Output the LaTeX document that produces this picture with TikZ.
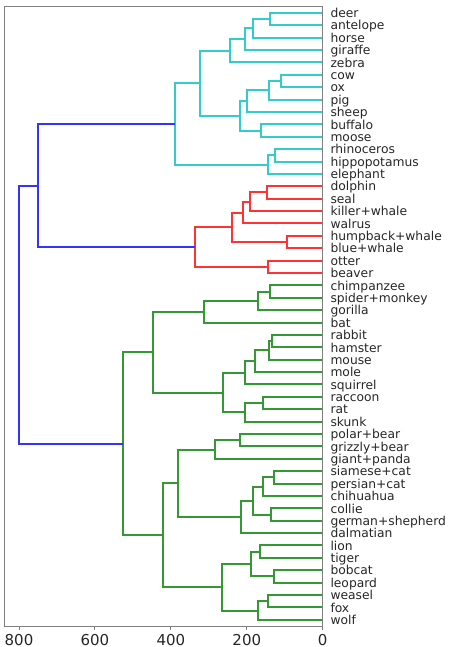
\documentclass[tikz,border=0pt]{standalone}
\usepackage{fontspec}
\setmainfont{DejaVu Sans}
\definecolor{lcyan}{HTML}{33CCCC}
\definecolor{lred}{HTML}{FF3333}
\definecolor{lgreen}{HTML}{339933}
\definecolor{lblue}{HTML}{3333FF}
\definecolor{spinecol}{HTML}{808080}
\begin{document}
\begin{tikzpicture}[x=1pt,y=-1pt,
  link/.style={line width=2pt,line join=miter},
  cy/.style={link,draw=lcyan},
  rd/.style={link,draw=lred},
  gr/.style={link,draw=lgreen},
  bl/.style={link,draw=lblue},
  leaf/.style={anchor=base west,inner sep=0pt,font=\fontsize{12.3}{14}\selectfont,text=black!85},
  tickmark/.style={draw=spinecol,line width=1pt},
  ticklabel/.style={anchor=base,inner sep=0pt,font=\fontsize{15}{18}\selectfont,text=black!85},
  axframe/.style={draw=spinecol,line width=1pt}]
\useasboundingbox (0,0) rectangle (448,647);
\begin{scope}[shift={(322.7,12.893)},x=-0.379625pt,y=-12.386pt]
\foreach \n [count=\i from 0] in {deer,antelope,horse,giraffe,zebra,cow,ox,pig,sheep,buffalo,moose,rhinoceros,hippopotamus,elephant,dolphin,seal,killer+whale,walrus,humpback+whale,blue+whale,otter,beaver,chimpanzee,spider+monkey,gorilla,bat,rabbit,hamster,mouse,mole,squirrel,raccoon,rat,skunk,polar+bear,grizzly+bear,giant+panda,siamese+cat,persian+cat,chihuahua,collie,german+shepherd,dalmatian,lion,tiger,bobcat,leopard,weasel,fox,wolf}{
  \coordinate (L\i) at (0,\i);
  \node[leaf] (T\i) at ([xshift=7.6pt,yshift=-4.7pt]L\i) {\n};
}
% cyan cluster
\coordinate (c1) at (138.8,0.5);
\coordinate (c2) at (182.7,1.25);
\coordinate (c3) at (203.9,2.125);
\coordinate (c4) at (244.2,3.0625);
\coordinate (c5) at (110.6,5.5);
\coordinate (c6) at (141.5,6.25);
\coordinate (c7) at (199.4,7.125);
\coordinate (c8) at (162.5,9.5);
\coordinate (c9) at (217.9,8.3125);
\coordinate (c10) at (322.4,5.6875);
\coordinate (c11) at (126.5,11.5);
\coordinate (c12) at (144.9,12.25);
\coordinate (c13) at (388.3,8.96875);
\draw[cy] (L0) -| (c1) |- (L1);
\draw[cy] (c1) -| (c2) |- (L2);
\draw[cy] (c2) -| (c3) |- (L3);
\draw[cy] (c3) -| (c4) |- (L4);
\draw[cy] (L5) -| (c5) |- (L6);
\draw[cy] (c5) -| (c6) |- (L7);
\draw[cy] (c6) -| (c7) |- (L8);
\draw[cy] (L9) -| (c8) |- (L10);
\draw[cy] (c7) -| (c9) |- (c8);
\draw[cy] (c4) -| (c10) |- (c9);
\draw[cy] (L11) -| (c11) |- (L12);
\draw[cy] (c11) -| (c12) |- (L13);
\draw[cy] (c10) -| (c13) |- (c12);
% red cluster
\coordinate (r1) at (147.5,14.5);
\coordinate (r2) at (192.3,15.25);
\coordinate (r3) at (210,16.125);
\coordinate (r4) at (93.2,18.5);
\coordinate (r5) at (238,17.3125);
\coordinate (r6) at (144.9,20.5);
\coordinate (r7) at (337.2,18.90625);
\draw[rd] (L14) -| (r1) |- (L15);
\draw[rd] (r1) -| (r2) |- (L16);
\draw[rd] (r2) -| (r3) |- (L17);
\draw[rd] (L18) -| (r4) |- (L19);
\draw[rd] (r3) -| (r5) |- (r4);
\draw[rd] (L20) -| (r6) |- (L21);
\draw[rd] (r5) -| (r7) |- (r6);
% green cluster
\coordinate (g1) at (138.8,22.5);
\coordinate (g2) at (169.6,23.25);
\coordinate (g3) at (312.7,24.125);
\coordinate (g4) at (134.4,26.5);
\coordinate (g5) at (141.5,27.25);
\coordinate (g6) at (177.5,28.125);
\coordinate (g7) at (203.9,29.0625);
\coordinate (g8) at (156.5,31.5);
\coordinate (g9) at (203.9,32.25);
\coordinate (g10) at (262.6,30.65625);
\coordinate (g11) at (447.8,27.390625);
\coordinate (g12) at (217.9,34.5);
\coordinate (g13) at (282.9,35.25);
\coordinate (g14) at (127.5,37.5);
\coordinate (g15) at (156.5,38.25);
\coordinate (g16) at (136.2,40.5);
\coordinate (g17) at (184.4,39.375);
\coordinate (g18) at (215.2,40.6875);
\coordinate (g19) at (382,37.96875);
\coordinate (g20) at (166,43.5);
\coordinate (g21) at (129.1,45.5);
\coordinate (g22) at (188.1,44.5);
\coordinate (g23) at (144.9,47.5);
\coordinate (g24) at (169.6,48.25);
\coordinate (g25) at (265.3,46.375);
\coordinate (g26) at (419.9,42.171875);
\coordinate (g27) at (526.1,34.78125);
\draw[gr] (L22) -| (g1) |- (L23);
\draw[gr] (g1) -| (g2) |- (L24);
\draw[gr] (g2) -| (g3) |- (L25);
\draw[gr] (L26) -| (g4) |- (L27);
\draw[gr] (g4) -| (g5) |- (L28);
\draw[gr] (g5) -| (g6) |- (L29);
\draw[gr] (g6) -| (g7) |- (L30);
\draw[gr] (L31) -| (g8) |- (L32);
\draw[gr] (g8) -| (g9) |- (L33);
\draw[gr] (g7) -| (g10) |- (g9);
\draw[gr] (g3) -| (g11) |- (g10);
\draw[gr] (L34) -| (g12) |- (L35);
\draw[gr] (g12) -| (g13) |- (L36);
\draw[gr] (L37) -| (g14) |- (L38);
\draw[gr] (g14) -| (g15) |- (L39);
\draw[gr] (L40) -| (g16) |- (L41);
\draw[gr] (g15) -| (g17) |- (g16);
\draw[gr] (g17) -| (g18) |- (L42);
\draw[gr] (g13) -| (g19) |- (g18);
\draw[gr] (L43) -| (g20) |- (L44);
\draw[gr] (L45) -| (g21) |- (L46);
\draw[gr] (g20) -| (g22) |- (g21);
\draw[gr] (L47) -| (g23) |- (L48);
\draw[gr] (g23) -| (g24) |- (L49);
\draw[gr] (g22) -| (g25) |- (g24);
\draw[gr] (g19) -| (g26) |- (g25);
\draw[gr] (g11) -| (g27) |- (g26);
% blue links
\coordinate (b1) at (750.8,13.9375);
\coordinate (b0) at (799,24.359375);
\draw[bl] (c13) -| (b1) |- (r7);
\draw[bl] (b1) -| (b0) |- (g27);
\end{scope}
% axes frame and ticks
\draw[axframe] (4.7,6.7) rectangle (322.7,626);
\foreach \v in {0,200,400,600,800}{
  \coordinate (tk\v) at ({322.7-0.379625*\v},626);
  \draw[tickmark] (tk\v) -- ++(0,3.5);
  \node[ticklabel] (tl\v) at ([yshift=-19.5pt]tk\v) {\v};
}
\end{tikzpicture}
\end{document}
